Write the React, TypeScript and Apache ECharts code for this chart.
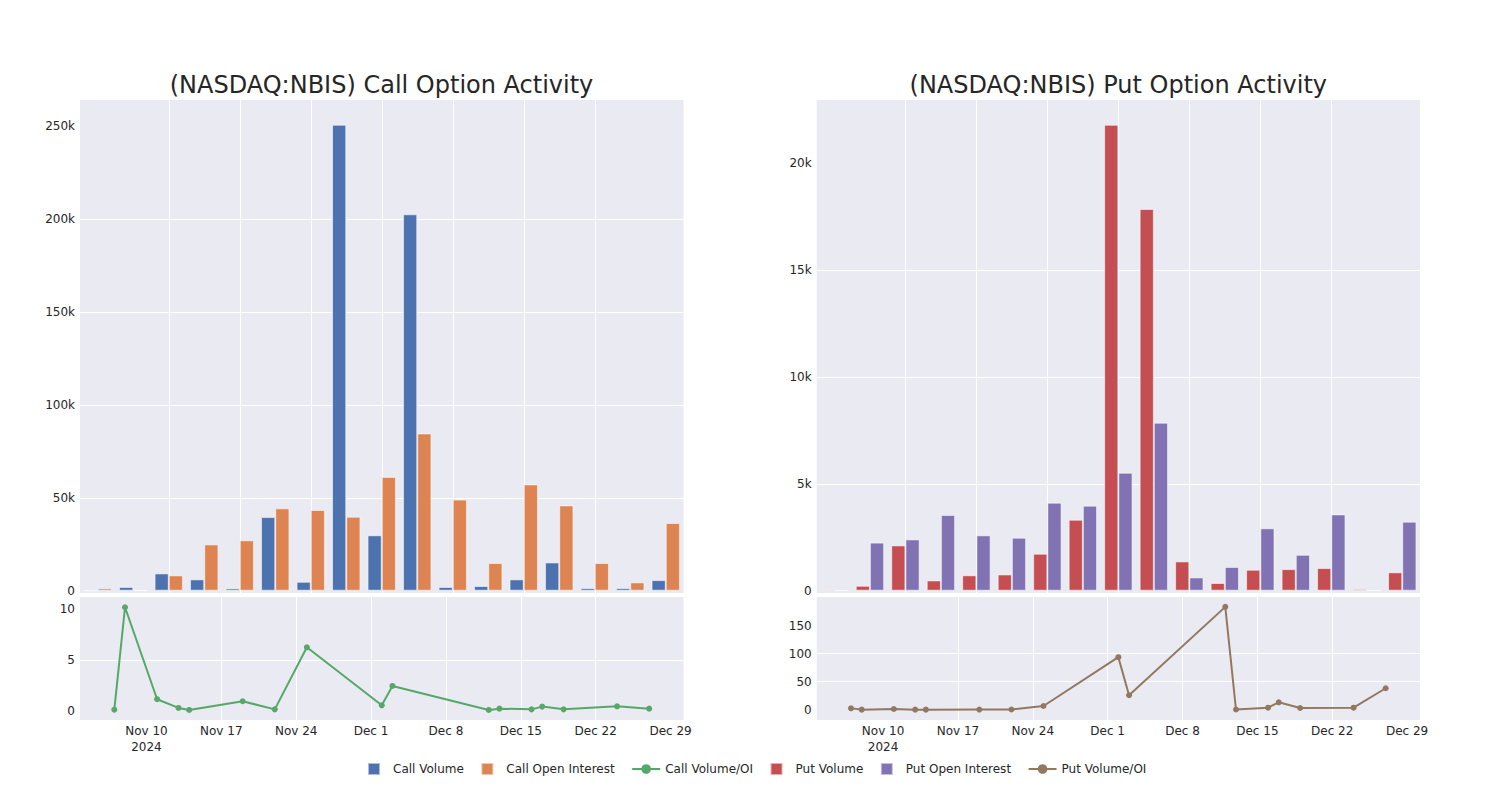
import React, { useEffect, useRef } from 'react';
import * as echarts from 'echarts';

const dates = [
  '2024-11-07', '2024-11-08', '2024-11-11', '2024-11-13', '2024-11-14', '2024-11-19',
  '2024-11-22', '2024-11-25', '2024-12-02', '2024-12-03', '2024-12-12', '2024-12-13',
  '2024-12-16', '2024-12-17', '2024-12-19', '2024-12-24', '2024-12-27',
];
const callVolume = [60, 2000, 9300, 6100, 1250, 39600, 4800, 250700, 29800, 202500, 2000, 2500, 6100, 15200, 1400, 1400, 5700];
const callOpenInterest = [1300, 200, 8250, 24900, 27100, 44300, 43400, 39800, 61200, 84600, 49000, 14900, 57200, 45900, 14900, 4500, 36400];
const callRatio = [0.1, 10.2, 1.13, 0.27, 0.07, 0.93, 0.13, 6.25, 0.53, 2.44, 0.07, 0.2, 0.13, 0.4, 0.13, 0.43, 0.2];
const putVolume = [60, 230, 2120, 480, 720, 760, 1730, 3320, 21800, 17860, 1370, 360, 980, 1010, 1060, 80, 860];
const putOpenInterest = [20, 2250, 2400, 3540, 2590, 2480, 4120, 3980, 5520, 7860, 620, 1110, 2920, 1680, 3570, 15, 3230];
const putRatio = [2.5, 0.1, 1.25, 0.1, 0.1, 0.2, 0.3, 6.6, 93.6, 25.7, 183.4, 0.3, 3.6, 13.2, 3, 3.6, 38.2];

const weekTickDates = ['2024-11-10', '2024-11-17', '2024-11-24', '2024-12-01', '2024-12-08', '2024-12-15', '2024-12-22', '2024-12-29'];
const callBarTicks = [0, 50000, 100000, 150000, 200000, 250000];
const putBarTicks = [0, 5000, 10000, 15000, 20000];
const callRatioTicks = [0, 5, 10];
const putRatioTicks = [0, 50, 100, 150];

const FONT = 'DejaVu Sans';
const TXT = '#262626';
const BG = '#EAEAF2';
const MONTHS = ['Jan', 'Feb', 'Mar', 'Apr', 'May', 'Jun', 'Jul', 'Aug', 'Sep', 'Oct', 'Nov', 'Dec'];

function toTs(d: string) {
  const [y, m, dd] = d.split('-').map(Number);
  return Date.UTC(y, m - 1, dd);
}

export default function App() {
  const ref = useRef<HTMLDivElement>(null);
  useEffect(() => {
    const chart = echarts.init(ref.current!, null, { renderer: 'svg' });
    const ts = dates.map(toTs);
    const weekTicks = weekTickDates.map(toTs);
    const idxTicks = dates.map((_, i) => i).filter((i) => i % 2 === 0);
    const tMin = Date.UTC(2024, 10, 3, 19);
    const tMax = Date.UTC(2024, 11, 30, 5);

    const kFmt = (v: number) => (v === 0 ? '0' : v / 1000 + 'k');
    const dateFmt = (v: number) => {
      const d = new Date(v);
      const s = MONTHS[d.getUTCMonth()] + ' ' + d.getUTCDate();
      return v === weekTicks[0] ? s + '\n' + d.getUTCFullYear() : s;
    };
    const labelStyle = { fontFamily: FONT, fontSize: 12, color: TXT };
    const split = { show: true, showMinLine: false, showMaxLine: false, lineStyle: { color: '#ffffff', width: 1 } };

    const barX = (gridIndex: number) => ({
      type: 'value', gridIndex, min: -0.5, max: 16.5,
      axisLine: { show: false },
      axisTick: { show: false, customValues: idxTicks },
      axisLabel: { show: false, customValues: idxTicks },
      splitLine: split,
    });
    const timeX = (gridIndex: number) => ({
      type: 'value', gridIndex, min: tMin, max: tMax,
      axisLine: { show: false },
      axisTick: { show: false, customValues: weekTicks },
      axisLabel: { ...labelStyle, customValues: weekTicks, formatter: dateFmt, margin: 3, lineHeight: 16, hideOverlap: false, showMinLabel: true, showMaxLabel: true },
      splitLine: split,
    });
    const yAx = (gridIndex: number, min: number, max: number, ticks: number[], fmt?: any) => ({
      type: 'value', gridIndex, min, max,
      axisLine: { show: false },
      axisTick: { show: false, customValues: ticks },
      axisLabel: { ...labelStyle, customValues: ticks, margin: 5, formatter: fmt || ((v: number) => String(v)) },
      splitLine: split,
    });

    const barStyle = (color: string) => ({ color, borderColor: 'rgba(255,255,255,0.55)', borderWidth: 1 });
    const lineSeries = (name: string, color: string, xi: number, values: number[]) => ({
      name, type: 'line', xAxisIndex: xi, yAxisIndex: xi,
      data: ts.map((t, i) => [t, values[i]]),
      symbol: 'circle', symbolSize: 6, showSymbol: true,
      itemStyle: { color }, lineStyle: { color, width: 2 },
    });
    const barSeries = (name: string, color: string, xi: number, values: number[]) => ({
      name, type: 'bar', xAxisIndex: xi, yAxisIndex: xi,
      data: values.map((v, i) => [i, v]),
      barGap: '0%', barCategoryGap: '20%',
      itemStyle: barStyle(color),
    });

    const sq = 'path://M0,0h10v10h-10z';
    const option: any = {
      animation: false,
      backgroundColor: '#ffffff',
      title: [
        { text: '(NASDAQ:NBIS) Call Option Activity', left: 381.5, top: 73, textAlign: 'center', padding: 0,
          textStyle: { fontFamily: FONT, fontSize: 24, fontWeight: 'normal', color: TXT } },
        { text: '(NASDAQ:NBIS) Put Option Activity', left: 1118.3, top: 73, textAlign: 'center', padding: 0,
          textStyle: { fontFamily: FONT, fontSize: 24, fontWeight: 'normal', color: TXT } },
      ],
      legend: {
        top: 757, left: 362, itemWidth: 28, itemHeight: 12, itemGap: 16.5,
        textStyle: { fontFamily: FONT, fontSize: 12, color: TXT },
        data: [
          { name: 'Call Volume', icon: sq },
          { name: 'Call Open Interest', icon: sq },
          { name: 'Call Volume/OI' },
          { name: 'Put Volume', icon: sq },
          { name: 'Put Open Interest', icon: sq },
          { name: 'Put Volume/OI' },
        ],
      },
      grid: [
        { left: 80, top: 100, width: 603.5, height: 493, show: true, backgroundColor: BG, borderWidth: 0 },
        { left: 80, top: 597, width: 603.5, height: 123, show: true, backgroundColor: BG, borderWidth: 0 },
        { left: 816.7, top: 100, width: 603.3, height: 493, show: true, backgroundColor: BG, borderWidth: 0 },
        { left: 816.7, top: 597, width: 603.3, height: 123, show: true, backgroundColor: BG, borderWidth: 0 },
      ],
      xAxis: [barX(0), timeX(1), barX(2), timeX(3)],
      yAxis: [
        yAx(0, -1240, 264000, callBarTicks, kFmt),
        yAx(1, -0.92, 11.21, callRatioTicks),
        yAx(2, -108, 22960, putBarTicks, kFmt),
        yAx(3, -18.4, 201, putRatioTicks),
      ],
      series: [
        barSeries('Call Volume', '#4C72B0', 0, callVolume),
        barSeries('Call Open Interest', '#DD8452', 0, callOpenInterest),
        lineSeries('Call Volume/OI', '#55A868', 1, callRatio),
        barSeries('Put Volume', '#C44E52', 2, putVolume),
        barSeries('Put Open Interest', '#8172B3', 2, putOpenInterest),
        lineSeries('Put Volume/OI', '#937860', 3, putRatio),
      ],
    };
    chart.setOption(option);
    return () => chart.dispose();
  }, []);
  return <div ref={ref} style={{ position: 'absolute', left: 0, top: 0, width: 1500, height: 800 }} />;
}
